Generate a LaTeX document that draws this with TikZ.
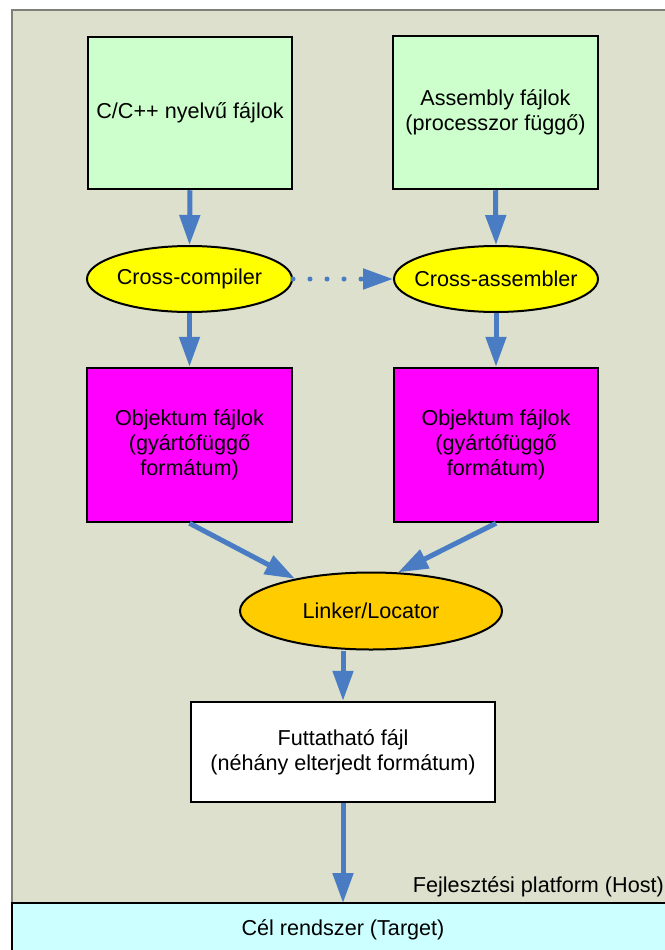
\documentclass[tikz,border=0pt]{standalone}
\usepackage{fontspec}
\setmainfont{Liberation Sans}
\usepackage{tikz}
\usetikzlibrary{shapes.geometric,arrows.meta}

\definecolor{hostbg}{HTML}{DCE0CC}
\definecolor{srcgreen}{HTML}{CCFFCC}
\definecolor{toolyellow}{HTML}{FFFF00}
\definecolor{objmagenta}{HTML}{FF00FF}
\definecolor{linkorange}{HTML}{FFCC00}
\definecolor{targetcyan}{HTML}{CCFFFF}
\definecolor{flowblue}{HTML}{4A7CC4}
\definecolor{edgegray}{HTML}{808078}

\tikzset{
  every node/.style={font=\fontsize{21.6}{25}\selectfont, align=center, inner sep=0pt},
  filebox/.style={draw, rectangle, line width=2.5pt},
  toolell/.style={draw, ellipse, line width=2pt, inner xsep=-14pt},
  flow/.style={draw=flowblue, line width=5pt, -{Triangle[length=30pt,width=20pt]}}
}

\begin{document}
\begin{tikzpicture}[x=1pt,y=-1pt]
  \useasboundingbox (0,0) rectangle (664,950);
  % host platform area
  \fill[hostbg] (12,10) rectangle (700,903);
  \draw[edgegray, line width=2pt] (12,903) -- (12,10) -- (700,10);
  \draw[line width=2.5pt, fill=targetcyan] (12,903) rectangle (700,970);

  % source files
  \node[filebox, fill=srcgreen, minimum width=204pt, minimum height=152pt] (csrc) at (190,113) {C/C++ nyelvű fájlok};
  \node[filebox, fill=srcgreen, minimum width=205pt, minimum height=153pt] (asmsrc) at (495.5,112.5) {Assembly fájlok\\(processzor függő)};

  % tools
  \node[toolell, fill=toolyellow, minimum width=205pt, minimum height=66pt] (ccomp) at (189.5,279) {Cross-compiler};
  \node[toolell, fill=toolyellow, minimum width=204pt, minimum height=66pt] (casm) at (496,279) {Cross-assembler};

  % object files
  \node[filebox, fill=objmagenta, minimum width=205pt, minimum height=154pt] (objc) at (189.5,445) {Objektum fájlok\\(gyártófüggő\\formátum)};
  \node[filebox, fill=objmagenta, minimum width=204pt, minimum height=154pt] (objasm) at (496,445) {Objektum fájlok\\(gyártófüggő\\formátum)};

  \node[toolell, fill=linkorange, minimum width=262pt, minimum height=77pt] (linker) at (371,611) {Linker/Locator};
  \node[filebox, fill=white, minimum width=304pt, minimum height=100pt] (exe) at (343,752) {Futtatható fájl\\(néhány elterjedt formátum)};

  \node[anchor=base east] (hostlbl) at (664,892) {Fejlesztési platform (Host)};
  \node[anchor=base] (target) at (343,935) {Cél rendszer (Target)};
  \coordinate (tgttop) at (343,903);

  % arrows
  \draw[flow] (csrc.south) -- (ccomp.north);
  \draw[flow] (asmsrc.south) -- (casm.north);
  \draw[flow, dash pattern=on 0pt off 17pt, line cap=round] (ccomp.east) -- (casm.west);
  \draw[flow] (ccomp.south) -- (objc.north);
  \draw[flow] (casm.south) -- (objasm.north);
  \draw[flow] (objc.south) -- (linker.157);
  \draw[flow] (objasm.south) -- (linker.55);
  \draw[flow] (linker.south -| exe.north) -- (exe.north);
  \draw[flow] (exe.south) -- (tgttop);
\end{tikzpicture}
\end{document}
